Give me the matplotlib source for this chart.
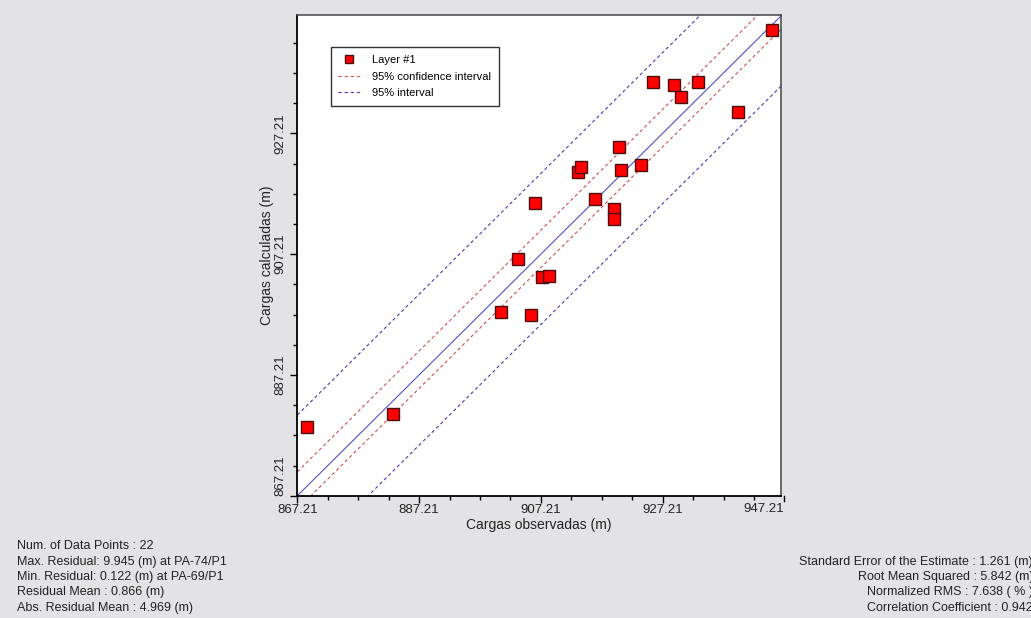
import numpy as np
import matplotlib
matplotlib.use('Agg')
import matplotlib.pyplot as plt
import matplotlib.transforms as mtransforms
from matplotlib.ticker import FixedLocator

plt.rcParams['font.family'] = ['Liberation Sans', 'DejaVu Sans']

# observed vs calculated heads (m)
obs = [868.77, 882.86, 900.61, 905.63, 903.38, 907.39, 908.52, 906.24, 913.35, 913.79, 916.09,
       919.26, 919.26, 920.03, 920.31, 923.65, 925.67, 929.11, 930.21, 933.06, 939.62, 945.21]
calc = [878.55, 880.70, 897.59, 897.14, 906.42, 903.48, 903.65, 915.69, 920.77, 921.65, 916.30,
        914.64, 912.99, 924.96, 921.10, 921.93, 935.77, 935.17, 933.19, 935.67, 930.75, 944.33]

# band offsets around the 1:1 line
residual_mean = 0.866
ci_half = 3.1
pi_half = 12.5

major_ticks = [867.21, 887.21, 907.21, 927.21]
tick_labels = ['867.21', '887.21', '907.21', '927.21']

stats_left = ['Num. of Data Points : 22',
              'Max. Residual: 9.945 (m) at PA-74/P1',
              'Min. Residual: 0.122 (m) at PA-69/P1',
              'Residual Mean : 0.866 (m)',
              'Abs. Residual Mean : 4.969 (m)']
stats_right = ['Standard Error of the Estimate : 1.261 (m)',
               'Root Mean Squared : 5.842 (m)',
               'Normalized RMS : 7.638 ( % )',
               'Correlation Coefficient : 0.942']

W, H = 1031, 618
fig = plt.figure(figsize=(W / 100, H / 100), dpi=100)
fig.patch.set_facecolor('#E3E3E6')
ax = fig.add_axes([297.3 / W, 1 - 495.8 / H, 483.4 / W, 480.8 / H])
ax.set_facecolor('white')

xlim = (867.21, 946.6)
ylim = (867.21, 946.8)
xs = np.array([867.21, 947.21])

ax.plot(xs, xs, color='#5050C8', lw=0.8, zorder=2)
ax.plot(xs, xs + residual_mean + ci_half, color='#D05050', lw=0.8, ls=(0, (3, 2.5)), zorder=2,
        label='95% confidence interval')
ax.plot(xs, xs + residual_mean - ci_half, color='#D05050', lw=0.8, ls=(0, (3, 2.5)), zorder=2)
ax.plot(xs, xs + residual_mean + pi_half, color='#4040B0', lw=0.8, ls=(0, (3, 2.5)), zorder=2,
        label='95% interval')
ax.plot(xs, xs + residual_mean - pi_half, color='#4040B0', lw=0.8, ls=(0, (3, 2.5)), zorder=2)
pts, = ax.plot(obs, calc, 's', ms=8, mfc='#FF0000', mec='#4a1010', mew=1.0, zorder=3, label='Layer #1')

ax.set_xlim(*xlim)
ax.set_ylim(*ylim)

ax.xaxis.set_major_locator(FixedLocator(major_ticks))
ax.yaxis.set_major_locator(FixedLocator(major_ticks))
ax.set_xticklabels(tick_labels)
ax.set_yticklabels(tick_labels)
ax.xaxis.set_minor_locator(FixedLocator(np.arange(872.21, 946, 5)))
ax.yaxis.set_minor_locator(FixedLocator(np.arange(872.21, 946, 5)))
ax.tick_params(which='major', length=5, width=1, labelsize=9.5, labelcolor='#222222')
ax.tick_params(which='minor', length=3, width=1)
ax.tick_params(axis='x', pad=1)
ax.tick_params(axis='y', pad=3, labelrotation=90)
for lab in ax.get_yticklabels():
    lab.set_va('center')
ax.get_yticklabels()[0].set_va('bottom')

# last x tick sits just past the right spine
trans = mtransforms.blended_transform_factory(ax.transData, ax.transAxes)
ax.plot([947.21, 947.21], [0, -0.0105], color='black', lw=1, transform=trans, clip_on=False)
ax.text(947.21, -0.0155, '947.21', transform=trans, ha='right', va='top', fontsize=9.5, color='#222222')
ax.set_xlim(*xlim)

for side in ['left', 'bottom']:
    ax.spines[side].set_linewidth(1.3)
    ax.spines[side].set_color('black')
for side in ['top', 'right']:
    ax.spines[side].set_linewidth(1.1)
    ax.spines[side].set_color('#444444')

ax.set_xlabel('Cargas observadas (m)', fontsize=10, color='#222222')
ax.set_ylabel('Cargas calculadas (m)', fontsize=10, color='#222222')
ax.xaxis.set_label_coords(0.5, -0.046)
ax.yaxis.set_label_coords(-0.049, 0.5)

leg = ax.legend(handles=[pts, ax.lines[1], ax.lines[3]], loc='upper left',
                bbox_to_anchor=(0.069, 0.933), borderaxespad=0, fontsize=8,
                fancybox=False, framealpha=1, edgecolor='#333333', markerscale=0.75,
                handlelength=1.9, handletextpad=1.1, borderpad=0.7, labelspacing=0.6)
leg.get_frame().set_linewidth(1.0)

for i, s in enumerate(stats_left):
    fig.text(17 / W, 1 - (546 + 15.5 * i) / H, s, fontsize=9, color='#222222', va='center', ha='left')
for i, s in enumerate(stats_right):
    fig.text(1033 / W, 1 - (561.5 + 15.5 * i) / H, s, fontsize=9, color='#222222', va='center', ha='right')

fig.savefig('out.png', dpi=100, facecolor=fig.get_facecolor())
